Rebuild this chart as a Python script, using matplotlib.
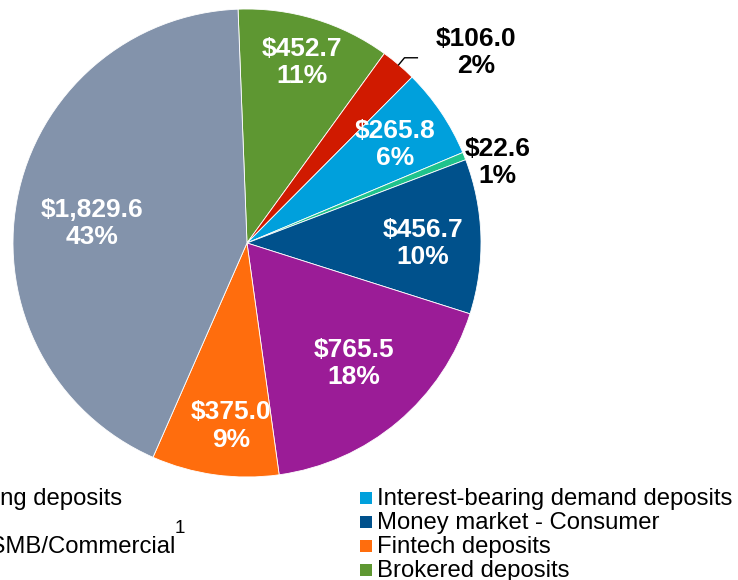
import numpy as np
import matplotlib
matplotlib.use("Agg")
import matplotlib.pyplot as plt
from matplotlib.patches import Rectangle

plt.rcParams["font.family"] = ["Liberation Sans", "DejaVu Sans"]

# slices, clockwise from the top
amounts = [452.7, 106.0, 265.8, 22.6, 456.7, 765.5, 375.0, 1829.6]
amount_labels = ["$452.7", "$106.0", "$265.8", "$22.6", "$456.7", "$765.5", "$375.0", "$1,829.6"]
pct_labels = ["11%", "2%", "6%", "1%", "10%", "18%", "9%", "43%"]
slice_colors = ["#5E9732", "#D01A00", "#00A0DC", "#1FC38C", "#00518C", "#9B1C97", "#FF6D0D", "#8393AB"]

# legend (two columns, left one is cut by the frame)
legend_left = ["Noninterest-bearing deposits", "Savings", "Money market - SMB/Commercial", "Time deposits"]
legend_left_colors = ["#8393AB", "#1FC38C", "#9B1C97", "#D01A00"]
legend_right = ["Interest-bearing demand deposits", "Money market - Consumer", "Fintech deposits", "Brokered deposits"]
legend_right_colors = ["#00A0DC", "#00518C", "#FF6D0D", "#5E9732"]

W, H = 738, 580
fig = plt.figure(figsize=(W / 100, H / 100), dpi=100)

cx, cy, r = 247, 243, 234
ax = fig.add_axes([(cx - r) / W, (H - cy - r) / H, 2 * r / W, 2 * r / H])
wedges, _ = ax.pie(amounts, colors=slice_colors, startangle=92.2, counterclock=False,
                   radius=1, wedgeprops=dict(edgecolor="white", linewidth=0.6))
ax.set_xlim(-1, 1)
ax.set_ylim(-1, 1)
ax.set_aspect("equal")
ax.axis("off")

# inside labels: radius and a small angle nudge per slice (None = outside)
label_r = [0.808, None, 0.76, None, 0.752, 0.69, 0.785, 0.667]
label_da = [0, 0, -0.4, 0, -1.9, 1.4, 2.9, 3.7]
for w, amt, pct, lr, da in zip(wedges, amount_labels, pct_labels, label_r, label_da):
    mid = np.deg2rad((w.theta1 + w.theta2) / 2 + da)
    if lr is not None:
        ax.text(lr * np.cos(mid), lr * np.sin(mid), f"{amt}\n{pct}", ha="center", va="center",
                color="white", fontsize=19, fontweight="bold", linespacing=1.16)

# small slices labelled outside
w = wedges[1]
mid = np.deg2rad((w.theta1 + w.theta2) / 2)
ex, ey = np.cos(mid), np.sin(mid)
ax.plot([ex, ex + 0.025, ex + 0.08], [ey, ey + 0.03, ey + 0.03], color="black", lw=1, clip_on=False)
ax.text(0.98, 0.815, f"{amount_labels[1]}\n{pct_labels[1]}", ha="center", va="center",
        fontsize=19, fontweight="bold", linespacing=1.16)
ax.text(1.07, 0.345, f"{amount_labels[3]}\n{pct_labels[3]}", ha="center", va="center",
        fontsize=19, fontweight="bold", linespacing=1.16)

# legend drawn by hand in pixel positions
def px(x, y):
    return x / W, (H - y) / H

row0, pitch, box = 498, 24, 12.5
for col_x, labels, colors in [(-200, legend_left, legend_left_colors),
                              (360, legend_right, legend_right_colors)]:
    for i, (lab, col) in enumerate(zip(labels, colors)):
        yc = row0 + i * pitch
        bx, by = px(col_x, yc + box / 2)
        fig.patches.append(Rectangle((bx, by), box / W, box / H, transform=fig.transFigure,
                                     facecolor=col, edgecolor="none"))
        tx, ty = px(col_x + 17, yc + 7.5)
        fig.text(tx, ty, lab, fontsize=17.2, va="baseline", ha="left")
        if lab.endswith("SMB/Commercial"):
            sx, sy = px(175, 533)
            fig.text(sx, sy, "1", fontsize=13.5, va="baseline", ha="left")

fig.savefig("out.png", dpi=100)
